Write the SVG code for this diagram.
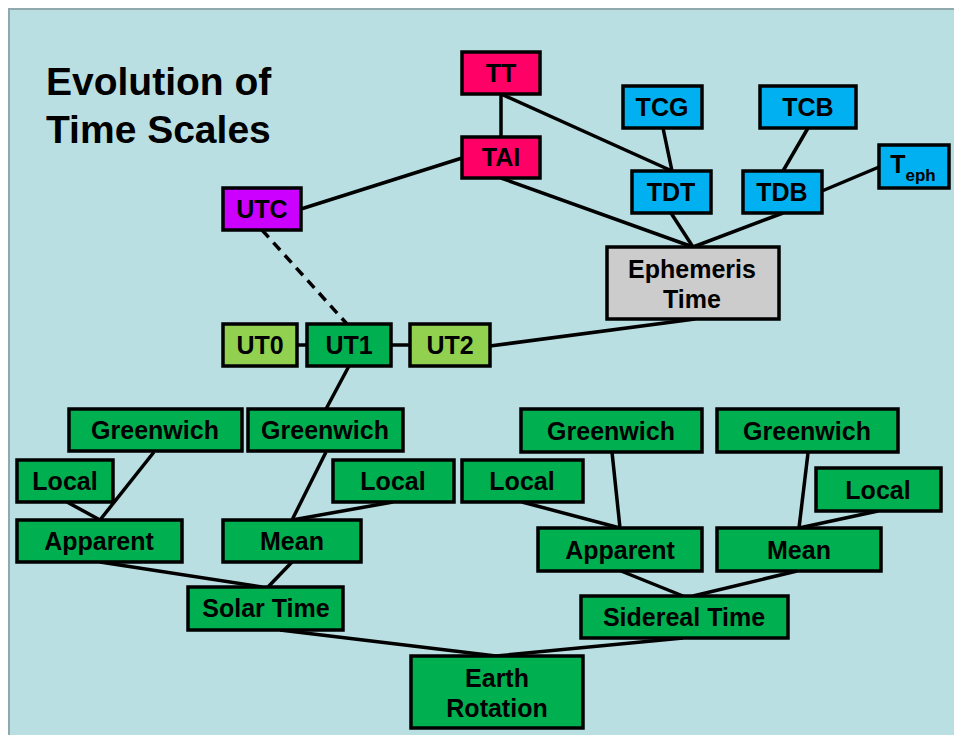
<svg xmlns="http://www.w3.org/2000/svg" width="954" height="735" viewBox="0 0 954 735">
<style>
.n rect{stroke:#000;stroke-width:3.5}
.n text{font-family:"Liberation Sans",Arial,sans-serif;font-weight:bold;font-size:25px;text-anchor:middle;fill:#000}
.g{fill:#00B050}.lg{fill:#92D050}.pk{fill:#FF0066}.bl{fill:#00B0F0}.mg{fill:#CC00FF}.gr{fill:#CCCCCC}
#connectors line{stroke:#000;stroke-width:3.5;stroke-linecap:butt}
.title{font-family:"Liberation Sans",Arial,sans-serif;font-weight:bold;font-size:39px;fill:#000}
</style>
<rect x="0" y="0" width="954" height="735" fill="#fff"/>
<rect x="9" y="9" width="950" height="730" fill="#B9DFE2" stroke="#8FA9AD" stroke-width="2"/>
<text class="title" x="46" y="95">Evolution of</text>
<text class="title" x="46" y="143">Time Scales</text>
<g id="connectors">
<line x1="501" y1="94" x2="501" y2="137"/>
<line x1="501" y1="94" x2="672" y2="171"/>
<line x1="663" y1="128" x2="672" y2="171"/>
<line x1="808" y1="128" x2="783" y2="171"/>
<line x1="879" y1="167" x2="822" y2="191"/>
<line x1="501" y1="178" x2="693" y2="247"/>
<line x1="671" y1="213" x2="693" y2="247"/>
<line x1="783" y1="213" x2="693" y2="247"/>
<line x1="301" y1="209" x2="462" y2="158"/>
<line x1="262" y1="230" x2="347" y2="324" stroke-dasharray="10,7"/>
<line x1="695" y1="319" x2="490" y2="346"/>
<line x1="297" y1="345" x2="307" y2="345"/>
<line x1="391" y1="345" x2="410" y2="345"/>
<line x1="349" y1="366" x2="326" y2="409"/>
<line x1="154" y1="452" x2="100" y2="520"/>
<line x1="67" y1="502" x2="100" y2="520"/>
<line x1="326" y1="452" x2="292" y2="520"/>
<line x1="393" y1="502" x2="292" y2="520"/>
<line x1="100" y1="562" x2="262" y2="587"/>
<line x1="292" y1="562" x2="268" y2="587"/>
<line x1="280" y1="630" x2="496" y2="656"/>
<line x1="683" y1="638" x2="496" y2="656"/>
<line x1="612" y1="452" x2="620" y2="528"/>
<line x1="522" y1="502" x2="620" y2="528"/>
<line x1="808" y1="453" x2="799" y2="528"/>
<line x1="878" y1="511" x2="799" y2="528"/>
<line x1="621" y1="571" x2="683" y2="596"/>
<line x1="797" y1="571" x2="693" y2="596"/>
</g>
<g id="TT" class="n"><rect class="pk" x="462" y="52" width="78" height="42"/><text x="501" y="82">TT</text></g>
<g id="TAI" class="n"><rect class="pk" x="462" y="137" width="78" height="41"/><text x="501" y="166">TAI</text></g>
<g id="TCG" class="n"><rect class="bl" x="623" y="86" width="79" height="42"/><text x="662" y="116">TCG</text></g>
<g id="TCB" class="n"><rect class="bl" x="760" y="86" width="96" height="42"/><text x="808" y="116">TCB</text></g>
<g id="TDT" class="n"><rect class="bl" x="632" y="171" width="79" height="42"/><text x="671" y="201">TDT</text></g>
<g id="TDB" class="n"><rect class="bl" x="743" y="171" width="79" height="42"/><text x="782" y="201">TDB</text></g>
<g id="Teph" class="n"><rect class="bl" x="879" y="145" width="70" height="43"/><text x="913" y="173">T<tspan font-size="17" dy="8">eph</tspan></text></g>
<g id="UTC" class="n"><rect class="mg" x="223" y="188" width="78" height="42"/><text x="262" y="218">UTC</text></g>
<g id="Ephemeris" class="n"><rect class="gr" x="607" y="247" width="172" height="72"/><text x="692" y="278">Ephemeris</text><text x="692" y="308">Time</text></g>
<g id="UT0" class="n"><rect class="lg" x="223" y="324" width="74" height="42"/><text x="260" y="354">UT0</text></g>
<g id="UT1" class="n"><rect class="g" x="307" y="324" width="84" height="42"/><text x="349" y="354">UT1</text></g>
<g id="UT2" class="n"><rect class="lg" x="410" y="324" width="80" height="42"/><text x="450" y="354">UT2</text></g>
<g id="Greenwich1" class="n"><rect class="g" x="69" y="409" width="173" height="42"/><text x="155" y="439">Greenwich</text></g>
<g id="Greenwich2" class="n"><rect class="g" x="248" y="409" width="155" height="42"/><text x="325" y="439">Greenwich</text></g>
<g id="Local1" class="n"><rect class="g" x="17" y="460" width="96" height="42"/><text x="65" y="490">Local</text></g>
<g id="Local2" class="n"><rect class="g" x="333" y="460" width="121" height="42"/><text x="393" y="490">Local</text></g>
<g id="Apparent1" class="n"><rect class="g" x="17" y="520" width="165" height="42"/><text x="99" y="550">Apparent</text></g>
<g id="Mean1" class="n"><rect class="g" x="223" y="520" width="138" height="42"/><text x="292" y="550">Mean</text></g>
<g id="SolarTime" class="n"><rect class="g" x="188" y="587" width="155" height="43"/><text x="266" y="617">Solar Time</text></g>
<g id="Greenwich3" class="n"><rect class="g" x="521" y="409" width="181" height="43"/><text x="611" y="440">Greenwich</text></g>
<g id="Greenwich4" class="n"><rect class="g" x="717" y="409" width="181" height="43"/><text x="807" y="440">Greenwich</text></g>
<g id="Local3" class="n"><rect class="g" x="462" y="460" width="121" height="42"/><text x="522" y="490">Local</text></g>
<g id="Local4" class="n"><rect class="g" x="816" y="468" width="125" height="43"/><text x="878" y="499">Local</text></g>
<g id="Apparent2" class="n"><rect class="g" x="538" y="528" width="164" height="43"/><text x="620" y="559">Apparent</text></g>
<g id="Mean2" class="n"><rect class="g" x="717" y="528" width="164" height="43"/><text x="799" y="559">Mean</text></g>
<g id="SiderealTime" class="n"><rect class="g" x="581" y="596" width="207" height="42"/><text x="684" y="626">Sidereal Time</text></g>
<g id="EarthRotation" class="n"><rect class="g" x="411" y="656" width="172" height="72"/><text x="497" y="687">Earth</text><text x="497" y="717">Rotation</text></g>
</svg>
